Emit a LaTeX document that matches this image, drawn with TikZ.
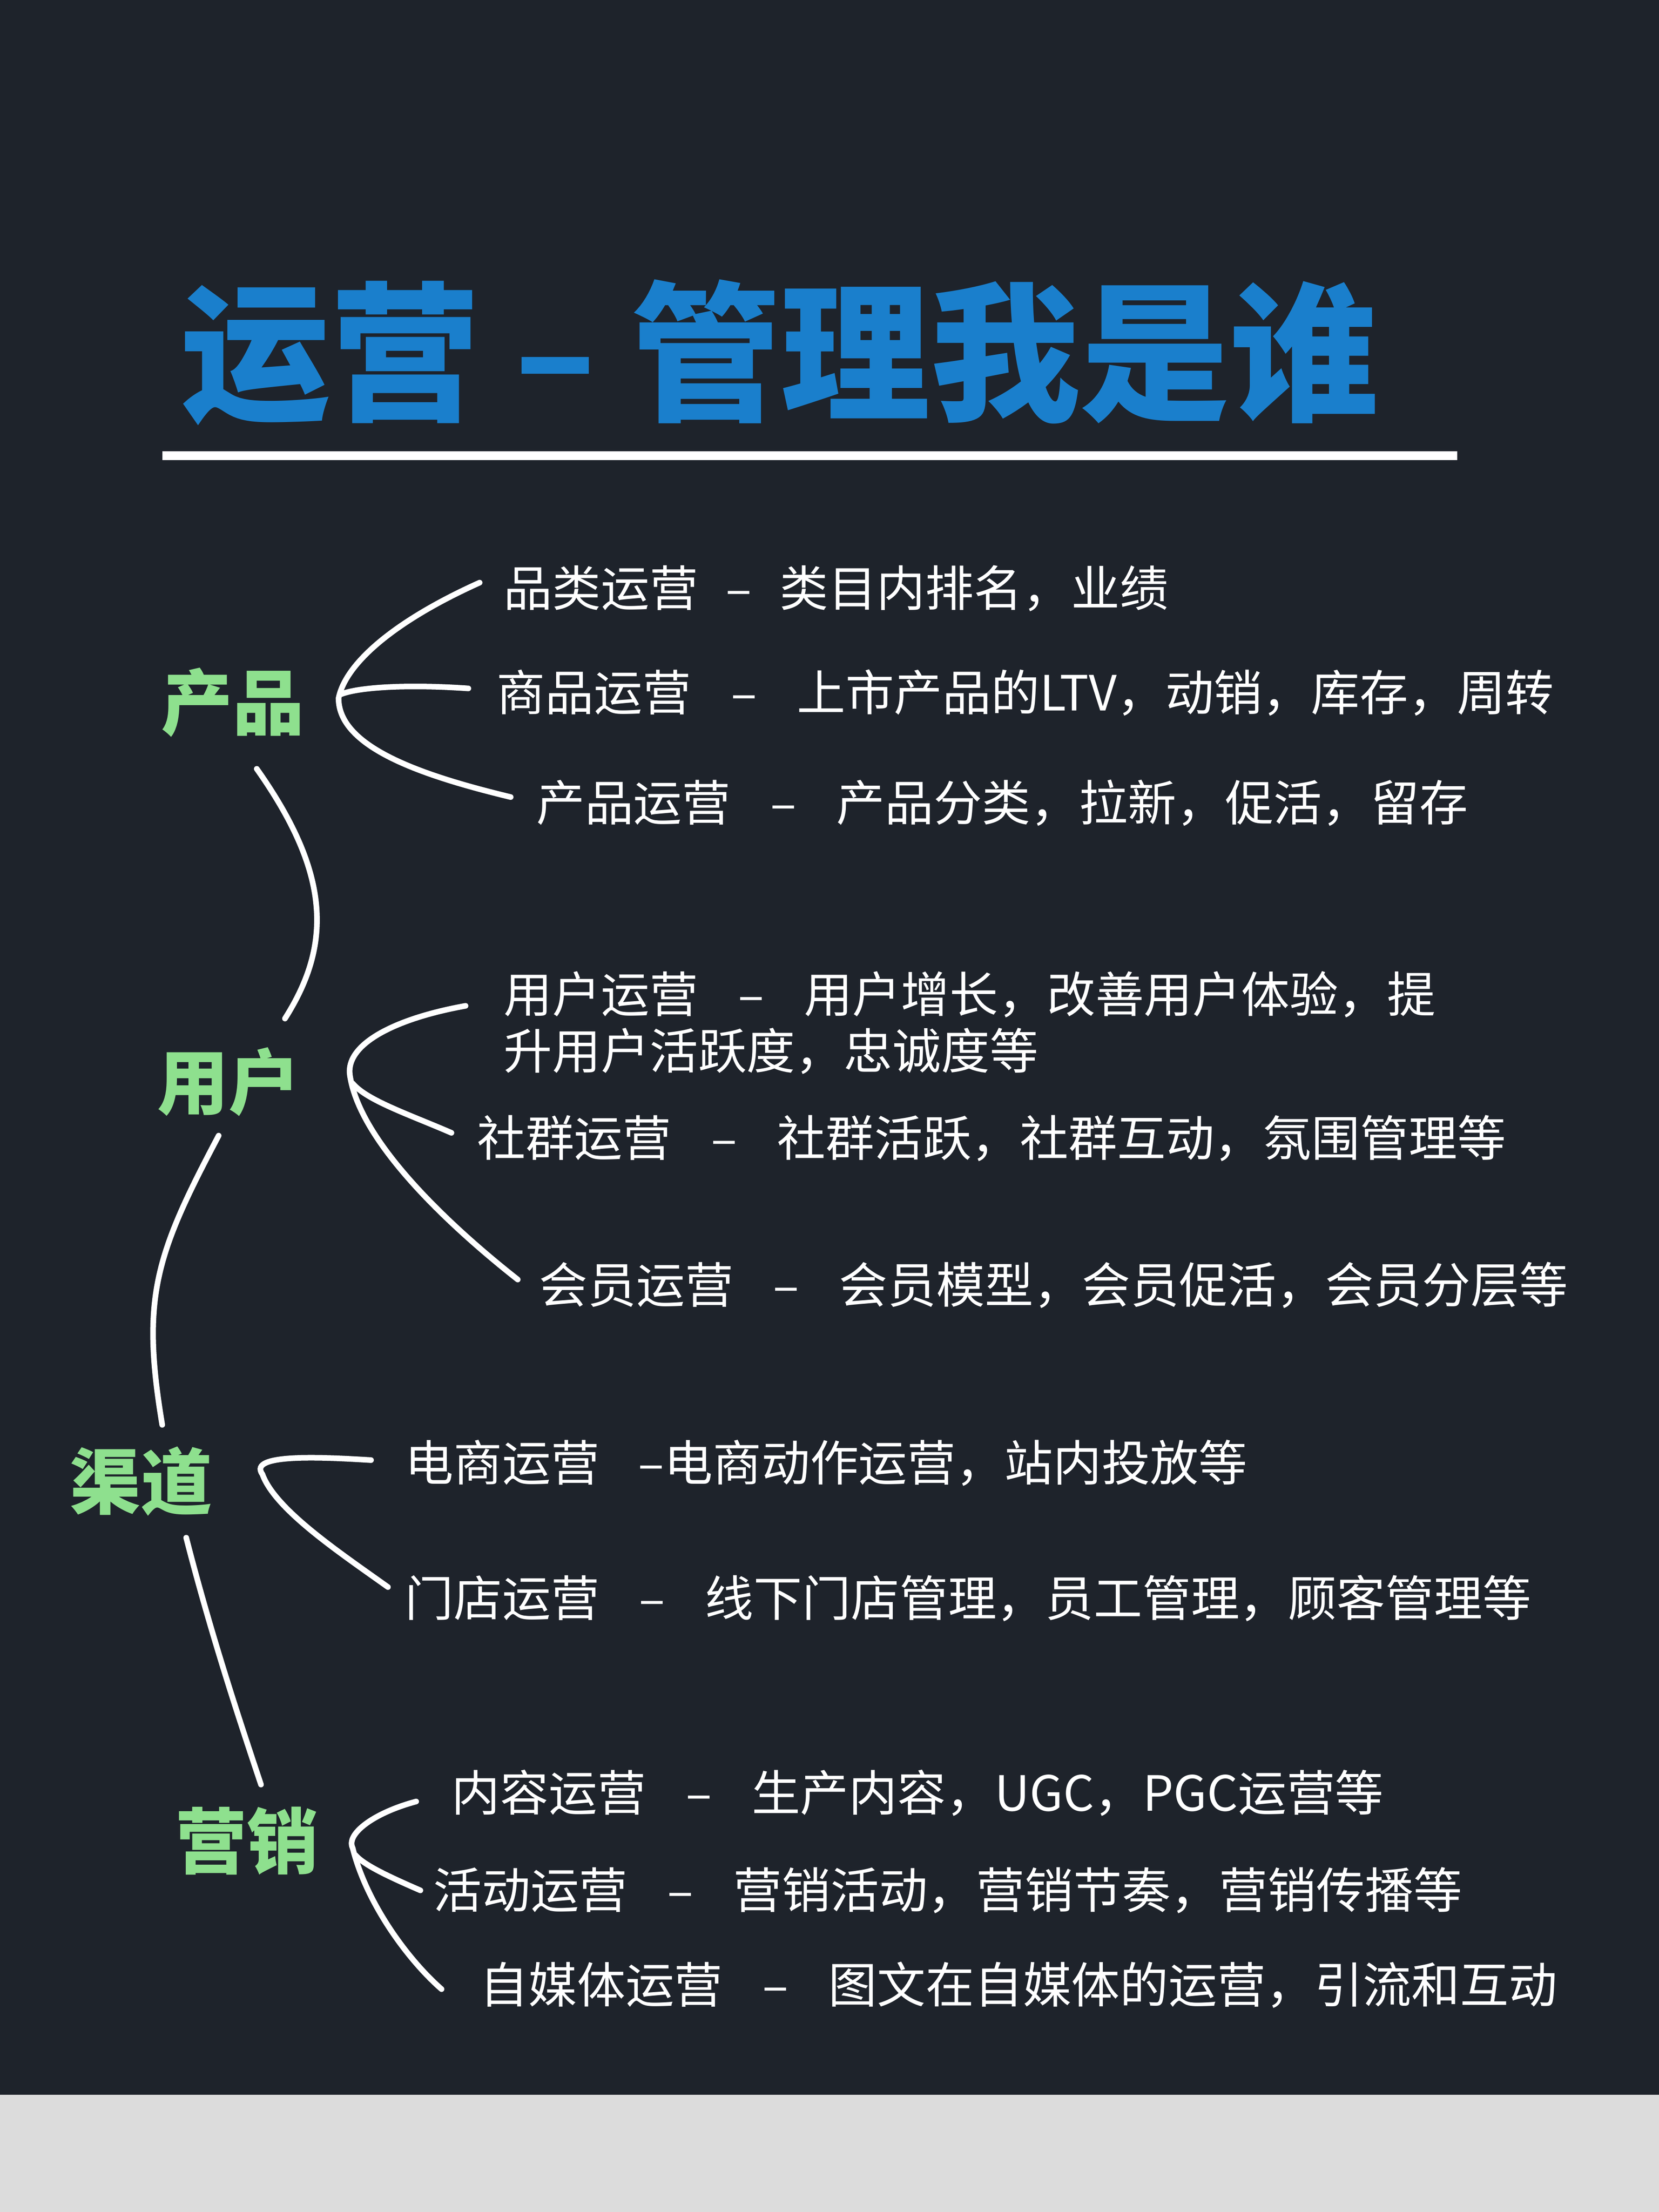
\documentclass[tikz,border=0pt]{standalone}
\usepackage{fontspec}
\setmainfont{Noto Sans CJK SC}
\definecolor{bg}{HTML}{1E232B}
\definecolor{gr}{HTML}{DCDCDC}
\definecolor{tb}{HTML}{1A7FCC}
\definecolor{lg}{HTML}{8EE08E}
\newcommand{\dsh}[1]{\hspace{#1em}–\hspace{#1em}}
\tikzset{
 item/.style={anchor=west,text=white,font=\fontsize{49}{57}\selectfont,inner sep=0pt,align=left},
 cat/.style={text=lg,font=\fontsize{72}{80}\selectfont\bfseries,inner sep=0pt},
 ln/.style={white,line width=0.2cm,line cap=round}
}
\begin{document}
\begin{tikzpicture}[x=0.05cm,y=-0.05cm]
\useasboundingbox (0,0) rectangle (1176,1568);
\fill[bg] (0,0) rectangle (1176,1485);
\fill[gr] (0,1485) rectangle (1176,1568);
\node[text=tb,font=\fontsize{151}{160}\selectfont\bfseries,inner sep=0pt] (title) at (553,250) {运营 – 管理我是谁};
\coordinate (u1) at (115,323); \coordinate (u2) at (1033,323);
\draw[white,line width=0.3cm] (u1) -- (u2);
\node[cat] (c1) at (165,498) {产品};
\node[cat] (c2) at (162,767) {用户};
\node[cat] (c3) at (100,1050) {渠道};
\node[cat] (c4) at (175,1305) {营销};
\node[item] (i1) at (357,417) {品类运营\dsh{0.57}类目内排名，业绩};
\node[item] (i2) at (352,491) {商品运营\dsh{0.82}上市产品的LTV，动销，库存，周转};
\node[item] (i3) at (380,569) {产品运营\dsh{0.82}产品分类，拉新，促活，留存};
\node[item] (i4) at (357,725) {用户运营\dsh{0.82}用户增长，改善用户体验，提\\升用户活跃度，忠诚度等};
\node[item] (i5) at (338,807) {社群运营\dsh{0.82}社群活跃，社群互动，氛围管理等};
\node[item] (i6) at (382,911) {会员运营\dsh{0.82}会员模型，会员促活，会员分层等};
\node[item] (i7) at (287,1037) {电商运营\hspace{0.8em}–电商动作运营，站内投放等};
\node[item] (i8) at (287,1133) {门店运营\dsh{0.82}线下门店管理，员工管理，顾客管理等};
\node[item] (i9) at (320,1271) {内容运营\dsh{0.82}生产内容，UGC，PGC运营等};
\node[item] (i10) at (307,1340) {活动运营\dsh{0.82}营销活动，营销节奏，营销传播等};
\node[item] (i11) at (340,1407) {自媒体运营\dsh{0.82}图文在自媒体的运营，引流和互动};
% brackets
\coordinate (p1) at (340,413); \coordinate (p2) at (332,488); \coordinate (p3) at (362,565); \coordinate (pc) at (240,495);
\draw[ln] (p1) .. controls (280,440) and (245,470) .. (pc) .. controls (240,530) and (300,550) .. (p3);
\draw[ln] (p2) .. controls (290,485) and (255,487) .. (242,492);
\coordinate (q1) at (330,713); \coordinate (q2) at (320,803); \coordinate (q3) at (367,907); \coordinate (qc) at (248,762);
\draw[ln] (q1) .. controls (280,722) and (245,740) .. (qc) .. controls (255,810) and (320,870) .. (q3);
\draw[ln] (q2) .. controls (290,790) and (260,780) .. (250,768);
\coordinate (r1) at (263,1035); \coordinate (r2) at (275,1125); \coordinate (rc) at (186,1045);
\draw[ln] (r1) .. controls (230,1033) and (175,1030) .. (rc) .. controls (195,1070) and (240,1100) .. (r2);
\coordinate (s1) at (295,1277); \coordinate (s2) at (298,1340); \coordinate (s3) at (313,1410); \coordinate (sc) at (250,1310);
\draw[ln] (s1) .. controls (265,1285) and (245,1300) .. (sc) .. controls (260,1350) and (290,1390) .. (s3);
\draw[ln] (s2) .. controls (275,1330) and (258,1322) .. (252,1315);
% spine
\coordinate (a1) at (182,545); \coordinate (a2) at (202,722);
\draw[ln] (a1) .. controls (235,620) and (235,670) .. (a2);
\coordinate (b1) at (155,805); \coordinate (b2) at (115,1010);
\draw[ln] (b1) .. controls (110,890) and (100,920) .. (b2);
\coordinate (d1) at (132,1090); \coordinate (d2) at (185,1265);
\draw[ln] (d1) .. controls (150,1160) and (170,1220) .. (d2);
\end{tikzpicture}
\end{document}
